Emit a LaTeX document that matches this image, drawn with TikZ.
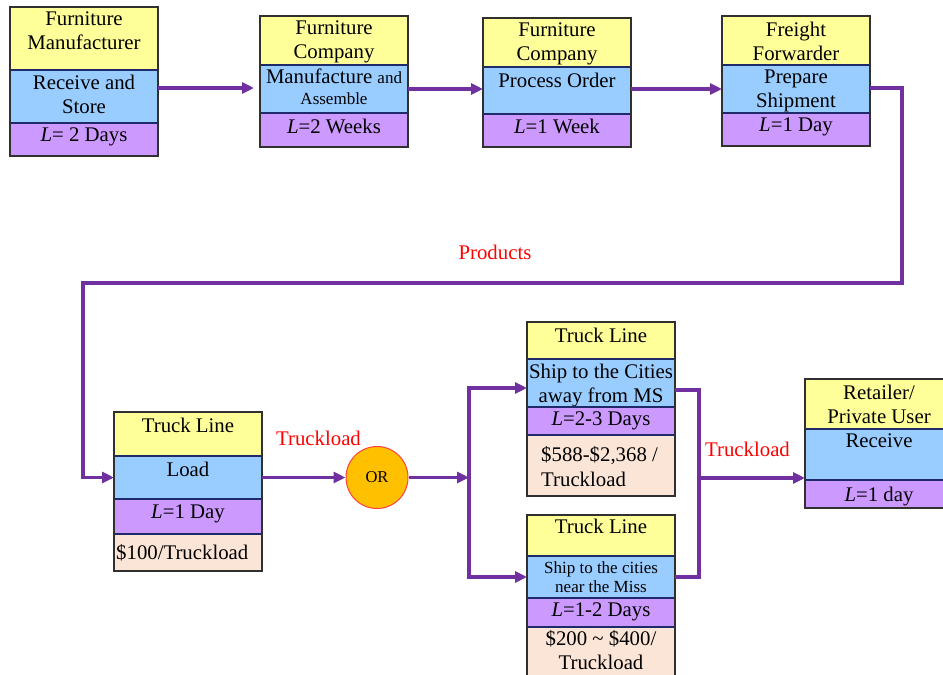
\documentclass[tikz,border=0pt]{standalone}
\usepackage{fontspec}
\setmainfont{Liberation Serif}
\newfontfamily\timesx{Liberation Serif}
\usetikzlibrary{arrows.meta,calc}
\definecolor{yel}{HTML}{FFFF99}
\definecolor{blu}{HTML}{99CCFF}
\definecolor{pur}{HTML}{CC99FF}
\definecolor{pea}{HTML}{FBE5D6}
\definecolor{navyb}{HTML}{1F2A6B}
\definecolor{outc}{HTML}{303030}
\definecolor{arrowc}{HTML}{7030A0}
\definecolor{orf}{HTML}{FFC000}
\definecolor{orb}{HTML}{FF4040}
\newcommand\bodyfont{\timesx\fontsize{20.8}{24}\selectfont}
\newcommand\smallfont{\fontsize{17}{19}\selectfont}
\newcommand\secbox[7]{%
  \node[sec,fill=#5,minimum height=#4pt] (#1) at (#2,#3) {};
  \node[txt] (#1t) at ([yshift=-#6pt]#1.north) {#7};}
\begin{document}
\begin{tikzpicture}[x=1pt,y=-1pt,
  sec/.style={draw=navyb,line width=1.2pt,minimum width=148pt,anchor=north west,inner sep=0pt,outer sep=0pt},
  txt/.style={anchor=north,align=center,inner sep=0pt,font=\bodyfont,text=black},
  outerb/.style={draw=outc,line width=1.2pt},
  lbl/.style={anchor=base,inner sep=0pt,font=\timesx\fontsize{20.8}{24}\selectfont,text=red},
  conn/.style={draw=arrowc,line width=3.5pt,-{Triangle[length=12pt,width=11pt]}},
  plainline/.style={draw=arrowc,line width=3.5pt},
  orc/.style={circle,fill=orf,draw=orb,line width=1pt,minimum size=62pt,inner sep=0pt,font=\timesx\fontsize{16.5}{18}\selectfont}]
\useasboundingbox (0,0) rectangle (943,675);
\fill[white] (0,0) rectangle (943,675);
\clip (0,0) rectangle (943,675);

% Box 1
\secbox{b1a}{10}{7}{63}{yel}{5}{Furniture\\Manufacturer}
\secbox{b1b}{10}{70}{53}{blu}{5}{Receive and\\Store}
\secbox{b1c}{10}{123}{33}{pur}{5}{\textit{L}= 2 Days}
\draw[outerb] (b1a.north west) rectangle (b1c.south east);

% Box 2
\secbox{b2a}{260}{16}{49}{yel}{5}{Furniture\\Company}
\secbox{b2b}{260}{65}{48}{blu}{4}{Manufacture {\smallfont and}\\[-3pt]{\smallfont Assemble}}
\secbox{b2c}{260}{113}{34}{pur}{6}{\textit{L}=2 Weeks}
\draw[outerb] (b2a.north west) rectangle (b2c.south east);

% Box 3
\secbox{b3a}{483}{18}{49}{yel}{5}{Furniture\\Company}
\secbox{b3b}{483}{67}{47}{blu}{6}{Process Order}
\secbox{b3c}{483}{114}{33}{pur}{5}{\textit{L}=1 Week}
\draw[outerb] (b3a.north west) rectangle (b3c.south east);

% Box 4
\secbox{b4a}{722}{16}{49}{yel}{6}{Freight\\Forwarder}
\secbox{b4b}{722}{65}{48}{blu}{5}{Prepare\\Shipment}
\secbox{b4c}{722}{113}{33}{pur}{5}{\textit{L}=1 Day}
\draw[outerb] (b4a.north west) rectangle (b4c.south east);

% Truck line (load)
\secbox{ta}{114}{412}{44}{yel}{6}{Truck Line}
\secbox{tb}{114}{456}{43}{blu}{6}{Load}
\secbox{tc}{114}{499}{35}{pur}{6}{\textit{L}=1 Day}
\secbox{td}{114}{534}{37}{pea}{5}{}
\node[txt,anchor=base west] (tdt2) at ([xshift=2pt,yshift=-25pt]td.north west) {\$100/Truckload};
\draw[outerb] (ta.north west) rectangle (td.south east);

% Upper truck line
\secbox{ua}{527}{322}{37}{yel}{6}{Truck Line}
\secbox{ub}{527}{359}{48}{blu}{5}{Ship to the Cities\\away from MS}
\secbox{uc}{527}{407}{28}{pur}{5}{\textit{L}=2-3 Days}
\secbox{ud}{527}{435}{61}{pea}{5}{}
\node[txt,anchor=north west,align=left] (udt2) at ([xshift=14pt,yshift=-11pt]ud.north west) {\$588-\$2,368 /\\[1pt]Truckload};
\draw[outerb] (ua.north west) rectangle (ud.south east);

% Lower truck line
\secbox{la}{527}{515}{41}{yel}{4}{Truck Line}
\secbox{lb}{527}{556}{42}{blu}{5.5}{{\smallfont Ship to the cities}\\[-5pt]{\smallfont near the Miss}}
\secbox{lc}{527}{598}{29}{pur}{5}{\textit{L}=1-2 Days}
\secbox{ld}{527}{627}{70}{pea}{3}{\$200 \textasciitilde{} \$400/\\Truckload}
\draw[outerb] (la.north west) rectangle (ld.south east);

% Retailer
\secbox{ra}{805}{379}{50}{yel}{6}{Retailer/\\Private User}
\secbox{rb}{805}{429}{51}{blu}{5}{Receive}
\secbox{rc}{805}{480}{28}{pur}{7}{\textit{L}=1 day}
\draw[outerb] (ra.north west) rectangle (rc.south east);

% OR
\node[orc] (or) at (377,477.5) {OR};

% Labels
\node[lbl] (lprod) at (495,259) {Products};
\node[lbl] (ltr1) at (318.5,445) {Truckload};
\node[lbl] (ltr2) at (747.5,456) {Truckload};

% Connectors top row
\coordinate (s1) at ([yshift=-18pt]b1b.north east);
\draw[conn,shorten >=6pt] (s1) -- (s1 -| b2b.west);
\coordinate (s2) at ([yshift=-24pt]b2b.north east);
\draw[conn] (s2) -- (s2 -| b3b.west);
\coordinate (s3) at ([yshift=-22pt]b3b.north east);
\draw[conn] (s3) -- (s3 -| b4b.west);

% Products loop
\coordinate (s4) at ([yshift=-23pt]b4b.north east);
\coordinate (c1) at (902,283);
\coordinate (c2) at (83,283);
\draw[conn] (s4) -| (c1) -- (c2) |- (tb.west);

% Load to OR and split
\draw[conn] (tb.east) -- (or.west);
\coordinate (sp) at (469,477.5);
\draw[conn] (or.east) -- (sp);
\coordinate (ua1) at ([yshift=-29pt]ub.north west);
\draw[conn] (sp) |- (ua1);
\draw[conn] (sp) |- (lb.west);

% Merge to retailer
\coordinate (ue) at ([yshift=-31pt]ub.north east);
\coordinate (mj) at (699,478);
\draw[plainline] (ue) -| (mj) |- (lb.east);
\draw[conn] (mj) -- (mj -| rb.west);
\end{tikzpicture}
\end{document}
